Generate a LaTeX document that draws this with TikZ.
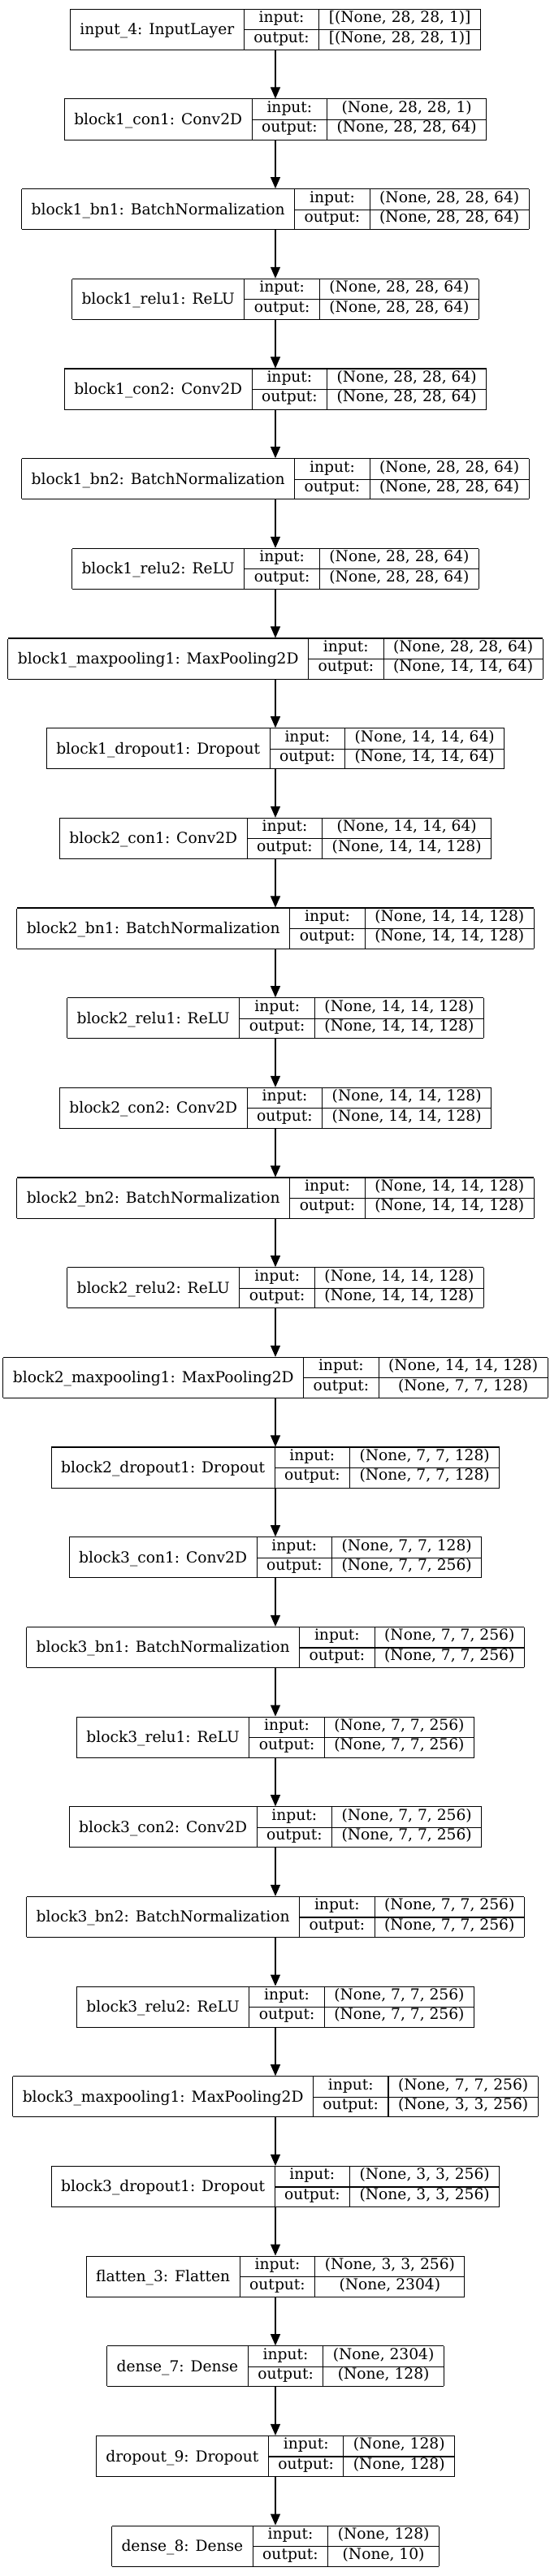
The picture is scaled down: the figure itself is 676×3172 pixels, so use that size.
\documentclass[tikz,border=0pt]{standalone}
\usepackage{fontspec}
\setmainfont{DejaVu Serif}
\usetikzlibrary{arrows.meta}
\setlength{\tabcolsep}{9pt}
\setlength{\arrayrulewidth}{0.8pt}
\newcommand{\rowstrut}{\rule[-6.5pt]{0pt}{15.5pt}}
% one Keras record: name | input:/output: | shapes
\newcommand{\layerrec}[3]{%
  \begin{tabular}{|c|c|c|}\hline
  \raisebox{-11.4pt}[0pt][0pt]{#1} & input:\rowstrut & #2\\ \cline{2-3}
   & output:\rowstrut & #3\\ \hline
  \end{tabular}}
\tikzset{
  layer/.style={inner sep=0pt, outer sep=0pt, font=\fontsize{14}{17}\selectfont},
  flow/.style={line width=0.8pt, -{Triangle[length=10.5pt,width=9pt]}}
}
\begin{document}
\begin{tikzpicture}[x=0.75pt,y=-0.75pt]
\fill[white] (0,0) rectangle (676,3172);
\useasboundingbox (0,0) rectangle (676,3172);
% block 1
\node[layer] (l0) at (339,36.35) {\layerrec{input\_4: InputLayer}{[(None, 28, 28, 1)]}{[(None, 28, 28, 1)]}};
\node[layer] (l1) at (339,147.02) {\layerrec{block1\_con1: Conv2D}{(None, 28, 28, 1)}{(None, 28, 28, 64)}};
\node[layer] (l2) at (339,257.69) {\layerrec{block1\_bn1: BatchNormalization}{(None, 28, 28, 64)}{(None, 28, 28, 64)}};
\node[layer] (l3) at (339,368.36) {\layerrec{block1\_relu1: ReLU}{(None, 28, 28, 64)}{(None, 28, 28, 64)}};
\node[layer] (l4) at (339,479.03) {\layerrec{block1\_con2: Conv2D}{(None, 28, 28, 64)}{(None, 28, 28, 64)}};
\node[layer] (l5) at (339,589.70) {\layerrec{block1\_bn2: BatchNormalization}{(None, 28, 28, 64)}{(None, 28, 28, 64)}};
\node[layer] (l6) at (339,700.37) {\layerrec{block1\_relu2: ReLU}{(None, 28, 28, 64)}{(None, 28, 28, 64)}};
\node[layer] (l7) at (339,811.04) {\layerrec{block1\_maxpooling1: MaxPooling2D}{(None, 28, 28, 64)}{(None, 14, 14, 64)}};
\node[layer] (l8) at (339,921.71) {\layerrec{block1\_dropout1: Dropout}{(None, 14, 14, 64)}{(None, 14, 14, 64)}};
% block 2
\node[layer] (l9) at (339,1032.38) {\layerrec{block2\_con1: Conv2D}{(None, 14, 14, 64)}{(None, 14, 14, 128)}};
\node[layer] (l10) at (339,1143.05) {\layerrec{block2\_bn1: BatchNormalization}{(None, 14, 14, 128)}{(None, 14, 14, 128)}};
\node[layer] (l11) at (339,1253.72) {\layerrec{block2\_relu1: ReLU}{(None, 14, 14, 128)}{(None, 14, 14, 128)}};
\node[layer] (l12) at (339,1364.39) {\layerrec{block2\_con2: Conv2D}{(None, 14, 14, 128)}{(None, 14, 14, 128)}};
\node[layer] (l13) at (339,1475.06) {\layerrec{block2\_bn2: BatchNormalization}{(None, 14, 14, 128)}{(None, 14, 14, 128)}};
\node[layer] (l14) at (339,1585.73) {\layerrec{block2\_relu2: ReLU}{(None, 14, 14, 128)}{(None, 14, 14, 128)}};
\node[layer] (l15) at (339,1696.40) {\layerrec{block2\_maxpooling1: MaxPooling2D}{(None, 14, 14, 128)}{(None, 7, 7, 128)}};
\node[layer] (l16) at (339,1807.07) {\layerrec{block2\_dropout1: Dropout}{(None, 7, 7, 128)}{(None, 7, 7, 128)}};
% block 3
\node[layer] (l17) at (339,1917.74) {\layerrec{block3\_con1: Conv2D}{(None, 7, 7, 128)}{(None, 7, 7, 256)}};
\node[layer] (l18) at (339,2028.41) {\layerrec{block3\_bn1: BatchNormalization}{(None, 7, 7, 256)}{(None, 7, 7, 256)}};
\node[layer] (l19) at (339,2139.08) {\layerrec{block3\_relu1: ReLU}{(None, 7, 7, 256)}{(None, 7, 7, 256)}};
\node[layer] (l20) at (339,2249.75) {\layerrec{block3\_con2: Conv2D}{(None, 7, 7, 256)}{(None, 7, 7, 256)}};
\node[layer] (l21) at (339,2360.42) {\layerrec{block3\_bn2: BatchNormalization}{(None, 7, 7, 256)}{(None, 7, 7, 256)}};
\node[layer] (l22) at (339,2471.09) {\layerrec{block3\_relu2: ReLU}{(None, 7, 7, 256)}{(None, 7, 7, 256)}};
\node[layer] (l23) at (339,2581.76) {\layerrec{block3\_maxpooling1: MaxPooling2D}{(None, 7, 7, 256)}{(None, 3, 3, 256)}};
\node[layer] (l24) at (339,2692.43) {\layerrec{block3\_dropout1: Dropout}{(None, 3, 3, 256)}{(None, 3, 3, 256)}};
% head
\node[layer] (l25) at (339,2803.10) {\layerrec{flatten\_3: Flatten}{(None, 3, 3, 256)}{(None, 2304)}};
\node[layer] (l26) at (339,2913.77) {\layerrec{dense\_7: Dense}{(None, 2304)}{(None, 128)}};
\node[layer] (l27) at (339,3024.44) {\layerrec{dropout\_9: Dropout}{(None, 128)}{(None, 128)}};
\node[layer] (l28) at (339,3135.11) {\layerrec{dense\_8: Dense}{(None, 128)}{(None, 10)}};
% arrows between consecutive layers
\foreach \i [evaluate=\i as \j using int(\i+1)] in {0,...,27}
  \draw[flow] (l\i) -- (l\j);
\end{tikzpicture}
\end{document}
